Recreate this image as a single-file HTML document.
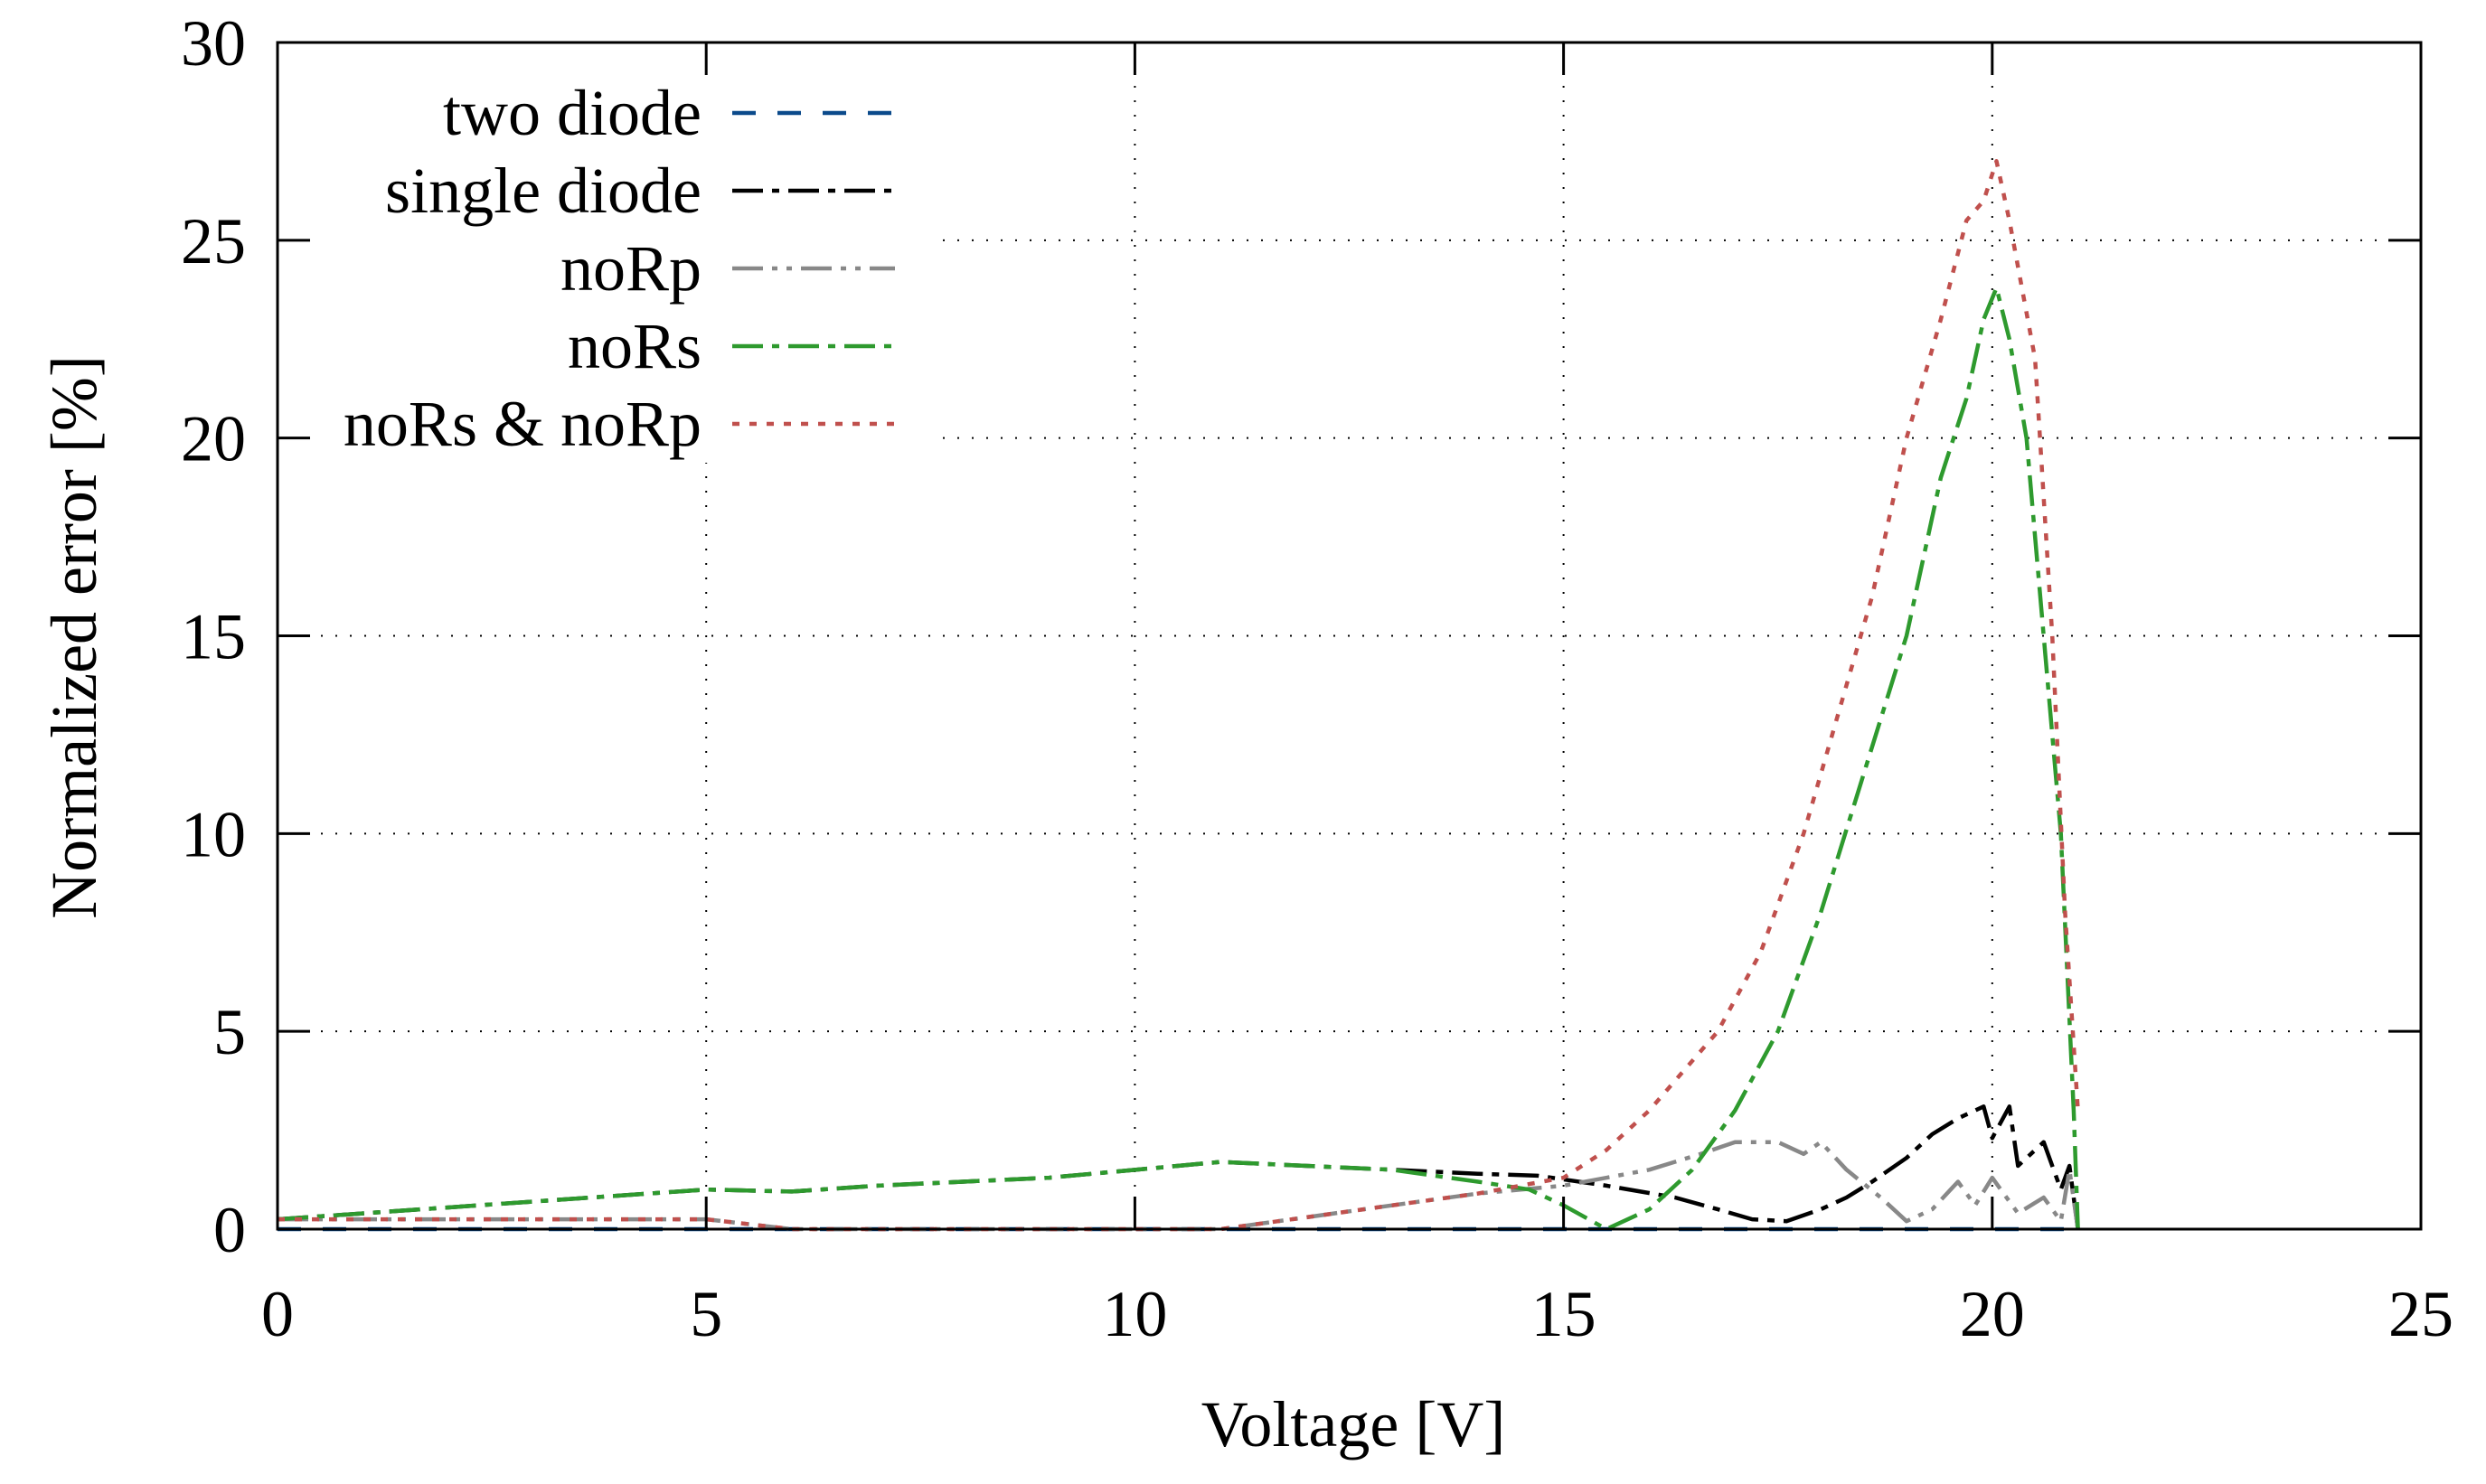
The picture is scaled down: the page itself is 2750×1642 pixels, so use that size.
<!DOCTYPE html>
<html><head><meta charset="utf-8"><style>
html,body{margin:0;padding:0;background:#fff;}
svg{display:block;font-family:"Liberation Serif",serif;}
</style></head><body>
<svg id="chart" width="2750" height="1642" viewBox="0 0 2750 1642">
<rect width="2750" height="1642" fill="#fff"/>
<g id="grid"></g>
<rect x="310" y="50" width="720" height="462" fill="#fff"/>
<g id="series"></g>
<rect x="307" y="47" width="2371" height="1313" fill="none" stroke="#000" stroke-width="3"/>
<g id="ticks"></g>
<text x="1497" y="1600" font-size="72" text-anchor="middle">Voltage [V]</text>
<text x="0" y="0" font-size="72" text-anchor="middle" transform="translate(106,705) rotate(-90)">Normalized error [%]</text>
<g id="legend"></g>
</svg>
<script>
const xTicks=[0,5,10,15,20,25];
const yTicks=[0,5,10,15,20,25,30];
const seriesNames=["two diode","single diode","noRp","noRs","noRs & noRp"];
const twoX=[0,5,10,15,20,21];
const twoY=[0,0,0,0,0,0];
const singleX=[0,5,6,7,9,10.5,11,12,13,14,14.7,15.5,16.3,16.8,17.2,17.6,18,18.3,18.6,19,19.3,19.6,19.9,20,20.2,20.3,20.6,20.8,20.9,21];
const singleY=[0.25,1.0,0.95,1.1,1.3,1.6,1.7,1.6,1.5,1.4,1.35,1.1,0.8,0.5,0.25,0.2,0.5,0.8,1.2,1.8,2.4,2.8,3.1,2.3,3.1,1.6,2.2,1.0,1.6,0];
const noRpX=[0,5,6,11,12,13,14,15,16,16.6,17,17.5,17.8,18,18.3,18.7,19,19.3,19.6,19.8,20,20.3,20.6,20.8,20.9,21];
const noRpY=[0.25,0.25,0,0,0.3,0.6,0.9,1.1,1.5,1.9,2.2,2.2,1.9,2.2,1.5,0.8,0.2,0.5,1.2,0.6,1.3,0.4,0.8,0.2,1.5,0];
const noRsX=[0,5,6,7,9,10.5,11,13,14,14.6,15,15.5,16,16.5,17,17.5,18,18.5,19,19.4,19.7,19.9,20.05,20.2,20.4,20.6,20.8,20.95,21];
const noRsY=[0.25,1.0,0.95,1.1,1.3,1.6,1.7,1.5,1.2,1.0,0.6,0,0.5,1.5,3,5,8,11.5,15,19,21,23,23.8,22.5,20,15,10,3,0];
const bothX=[0,5,6,11,12,13,14,15,15.5,16,16.8,17.3,17.8,18.2,18.6,19,19.4,19.7,19.9,20.05,20.2,20.5,20.7,20.85,21];
const bothY=[0.25,0.25,0,0,0.3,0.6,0.9,1.3,2.0,3.0,5,7,10,13,16,20,23,25.5,26,27,25.5,22,15,8,3];

const X0=307,X1=2678,Y0=1360,Y1=47;
const sx=v=>X0+(v-0)/(25-0)*(X1-X0);
const sy=v=>Y0-(v-0)/(30-0)*(Y0-Y1);
const NS="http://www.w3.org/2000/svg";
function mk(tag,attrs,parent){const e=document.createElementNS(NS,tag);for(const k in attrs)e.setAttribute(k,attrs[k]);parent.appendChild(e);return e;}
const grid=document.getElementById('grid'),ticks=document.getElementById('ticks'),ser=document.getElementById('series'),leg=document.getElementById('legend');
xTicks.forEach(t=>{
  if(t>0&&t<25){const g=mk('line',{x1:sx(t),x2:sx(t),y1:Y1,y2:Y0,stroke:'#000','stroke-width':2,'stroke-dasharray':'2 14'},grid);
  
  }
  const a=mk('line',{x1:sx(t),x2:sx(t),y1:Y0,y2:Y0-36,stroke:'#000','stroke-width':3},ticks);
  
  
  const b=mk('line',{x1:sx(t),x2:sx(t),y1:Y1,y2:Y1+36,stroke:'#000','stroke-width':3},ticks);
  
  
  const l=mk('text',{x:sx(t),y:1478,'font-size':72,'text-anchor':'middle'},ticks);l.textContent=t;
  
  
});
yTicks.forEach(t=>{
  if(t>0&&t<30){const g=mk('line',{x1:X0,x2:X1,y1:sy(t),y2:sy(t),stroke:'#000','stroke-width':2,'stroke-dasharray':'2 14'},grid);
  
  }
  const a=mk('line',{x1:X0,x2:X0+36,y1:sy(t),y2:sy(t),stroke:'#000','stroke-width':3},ticks);
  
  
  const b=mk('line',{x1:X1,x2:X1-36,y1:sy(t),y2:sy(t),stroke:'#000','stroke-width':3},ticks);
  
  
  const l=mk('text',{x:272,y:sy(t)+25,'font-size':72,'text-anchor':'end'},ticks);l.textContent=t;
  
  
});
const styles=[
 {c:'#0b4a8b',d:'26 24'},
 {c:'#000',d:'34 10 8 10'},
 {c:'#888',d:'34 10 6 10 6 10'},
 {c:'#2e9a2e',d:'34 10 8 10'},
 {c:'#c0504d',d:'8 11'}];
const data=[[twoX,twoY],[singleX,singleY],[noRpX,noRpY],[noRsX,noRsY],[bothX,bothY]];
const keys=['two-diode','single-diode','norp','nors','nors-norp'];
data.forEach((s,i)=>{
  const pts=s[0].map((x,j)=>sx(x).toFixed(1)+','+sy(s[1][j]).toFixed(1)).join(' ');
  const p=mk('polyline',{points:pts,fill:'none',stroke:styles[i].c,'stroke-width':4.5,'stroke-dasharray':styles[i].d,'stroke-linejoin':'round'},ser);
  
  
  const ly=125+i*86;
  const t=mk('text',{x:776,y:ly+24,'font-size':72,'text-anchor':'end'},leg);t.textContent=seriesNames[i];
  
  
  const ln=mk('line',{x1:810,x2:990,y1:ly,y2:ly,stroke:styles[i].c,'stroke-width':4.5,'stroke-dasharray':styles[i].d},leg);
  
  
});
</script>
</body></html>
